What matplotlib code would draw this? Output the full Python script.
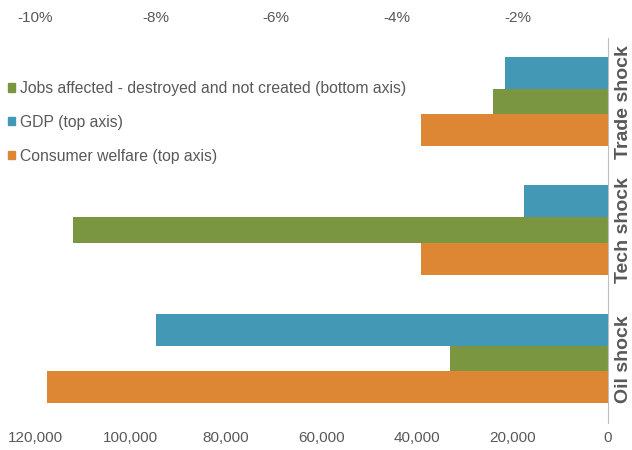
import matplotlib.pyplot as plt
from matplotlib.patches import Patch
import numpy as np

plt.rcParams['font.family'] = ['Liberation Sans', 'DejaVu Sans']

# datos
shocks = ['Trade shock', 'Tech shock', 'Oil shock']
jobs = [24000, 112000, 33000]          # eje inferior
gdp = [-2.2, -1.9, -8.0]               # eje superior (%)
welfare = [-3.6, -3.6, -9.8]           # eje superior (%)

jobs_ticks = [120000, 100000, 80000, 60000, 40000, 20000, 0]
pct_ticks = [-10, -8, -6, -4, -2]

green = '#7b9640'
blue = '#4298b5'
orange = '#dd8734'
grey = '#595959'

fig = plt.figure(figsize=(6.32, 4.5), dpi=100)
ax = fig.add_axes([35 / 632, 1 - 423 / 450, 573 / 632, 385.5 / 450])
ax2 = ax.twiny()

y = np.arange(len(shocks))

ax.barh(y, jobs, height=0.202, color=green)
ax.set_xlim(120000, 0)
ax.set_ylim(2.5, -0.5)

ax2.set_xlim(-10, -0.5)
base = ax2.get_xlim()[1]
ax2.barh(y - 0.226, np.array(gdp) - base, left=base, height=0.246, color=blue)
ax2.barh(y + 0.222, np.array(welfare) - base, left=base, height=0.246, color=orange)

for s in ax.spines.values():
    s.set_visible(False)
for s in ax2.spines.values():
    s.set_visible(False)
ax.spines['right'].set_visible(True)
ax.spines['right'].set_color('#bfbfbf')

ax.set_xticks(jobs_ticks, labels=[f'{v:,}' for v in jobs_ticks])
ax.tick_params(axis='x', length=0, labelsize=11, labelcolor=grey, pad=6)
ax2.set_xticks(pct_ticks, labels=[f'{v}%' for v in pct_ticks])
ax2.tick_params(axis='x', length=0, labelsize=11, labelcolor=grey, pad=9)

ax.yaxis.tick_right()
ax.set_yticks(y, shocks)
ax.tick_params(axis='y', length=0, pad=5)
for lab in ax.get_yticklabels():
    lab.set_rotation(90)
    lab.set_va('center')
    lab.set_fontsize(14)
    lab.set_fontweight('bold')
    lab.set_color(grey)

handles = [Patch(color=green), Patch(color=blue), Patch(color=orange)]
labels = ['Jobs affected - destroyed and not created (bottom axis)',
          'GDP (top axis)', 'Consumer welfare (top axis)']
fig.legend(handles, labels, loc='upper left', bbox_to_anchor=(8 / 632, 1 - 81 / 450),
           frameon=False, fontsize=11.3, labelcolor=grey, handlelength=0.45,
           handleheight=0.45, handletextpad=0.3, labelspacing=1.2,
           borderpad=0, borderaxespad=0)

plt.savefig('out.png')
plt.close()
